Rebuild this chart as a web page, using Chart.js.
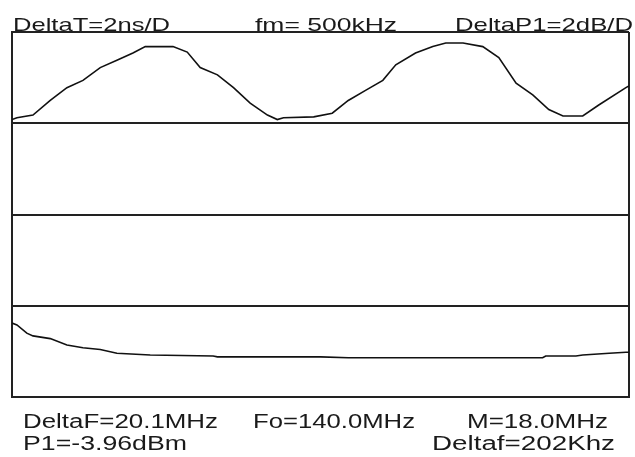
<!DOCTYPE html>
<html>
<head>
<meta charset="utf-8">
<script src="https://cdn.jsdelivr.net/npm/chart.js@4"></script>
<style>
  html, body { margin: 0; padding: 0; background: #fff; }
  #wrap { position: relative; width: 635px; height: 457px; }
</style>
</head>
<body>
<div id="wrap"><canvas id="c" width="635" height="457"></canvas></div>
<script>
// ---- Data ----
// Time axis: 10 divisions (DeltaT = 2 ns/D); vertical: 4 bands.
const waveX = [0.00, 0.08, 0.34, 0.62, 0.89, 1.15, 1.43, 1.70, 1.96, 2.16, 2.61, 2.84, 3.05, 3.33, 3.59, 3.86, 4.14, 4.30, 4.40, 4.89, 5.19, 5.45, 5.73, 6.01, 6.22, 6.54, 6.82, 7.03, 7.31, 7.63, 7.89, 8.17, 8.44, 8.70, 8.93, 9.25, 9.51, 9.95, 10.00];
const waveY = [3.04, 3.06, 3.09, 3.25, 3.39, 3.47, 3.61, 3.69, 3.77, 3.84, 3.84, 3.78, 3.61, 3.53, 3.39, 3.22, 3.09, 3.04, 3.06, 3.07, 3.11, 3.25, 3.36, 3.47, 3.64, 3.77, 3.84, 3.88, 3.88, 3.84, 3.72, 3.44, 3.31, 3.15, 3.08, 3.08, 3.20, 3.39, 3.41];

const specX = [0.00, 0.08, 0.24, 0.34, 0.62, 0.89, 1.15, 1.43, 1.70, 2.24, 3.26, 3.33, 5.00, 5.45, 8.60, 8.65, 9.14, 9.25, 9.68, 9.95, 10.00];
const specY = [0.81, 0.79, 0.70, 0.67, 0.64, 0.57, 0.54, 0.52, 0.48, 0.46, 0.45, 0.44, 0.44, 0.43, 0.43, 0.45, 0.45, 0.46, 0.48, 0.49, 0.49];

const topLabels = ["DeltaT=2ns/D", "fm= 500kHz", "DeltaP1=2dB/D"];
const bottomLabels = ["DeltaF=20.1MHz", "Fo=140.0MHz", "M=18.0MHz", "P1=-3.96dBm", "Deltaf=202Khz"];

const bands = [0, 1, 2, 3, 4];

const toPts = (xs, ys) => xs.map((x, i) => ({ x: x, y: ys[i] }));

// Text placement (layout only)
const textLayout = {
  top:    [ { x: 13, y: 31, w: 157, size: 19 }, { x: 255, y: 31, w: 142, size: 19 }, { x: 455, y: 31, w: 178, size: 19 } ],
  bottom: [ { x: 23, y: 428, w: 195, size: 20 }, { x: 253, y: 428, w: 162, size: 20 }, { x: 467, y: 428, w: 141, size: 20 },
            { x: 23, y: 450, w: 164, size: 20 }, { x: 432, y: 450, w: 183, size: 20 } ]
};

const textPlugin = {
  id: 'screenText',
  afterDraw(chart) {
    const ctx = chart.ctx;
    const draw = (txt, p) => {
      ctx.save();
      ctx.font = p.size + 'px "Liberation Sans", Arial, sans-serif';
      ctx.fillStyle = '#1a1a1a';
      ctx.textBaseline = 'alphabetic';
      ctx.textAlign = 'left';
      const m = ctx.measureText(txt).width;
      ctx.translate(p.x, p.y);
      ctx.scale(p.w / m, 1);
      ctx.fillText(txt, 0, 0);
      ctx.restore();
    };
    topLabels.forEach((t, i) => draw(t, textLayout.top[i]));
    bottomLabels.forEach((t, i) => draw(t, textLayout.bottom[i]));
  }
};

new Chart(document.getElementById('c'), {
  type: 'line',
  data: {
    datasets: [
      { data: toPts(waveX, waveY), borderColor: '#111', borderWidth: 1.6, pointRadius: 0, tension: 0, fill: false },
      { data: toPts(specX, specY), borderColor: '#111', borderWidth: 1.6, pointRadius: 0, tension: 0, fill: false }
    ]
  },
  options: {
    responsive: false,
    animation: false,
    events: [],
    layout: { padding: { left: 12, top: 32, right: 6, bottom: 60 } },
    plugins: { legend: { display: false }, tooltip: { enabled: false }, title: { display: false } },
    scales: {
      x: {
        type: 'linear', min: 0, max: 10,
        ticks: { display: false, stepSize: 10 },
        grid: { display: true, drawTicks: false, color: '#222', lineWidth: 2 },
        border: { display: true, color: '#222', width: 2 }
      },
      y: {
        type: 'linear', min: bands[0], max: bands[bands.length - 1],
        ticks: { display: false, stepSize: 1 },
        grid: { display: true, drawTicks: false, color: '#222', lineWidth: 2 },
        border: { display: true, color: '#222', width: 2 }
      }
    }
  },
  plugins: [textPlugin]
});
</script>
</body>
</html>
